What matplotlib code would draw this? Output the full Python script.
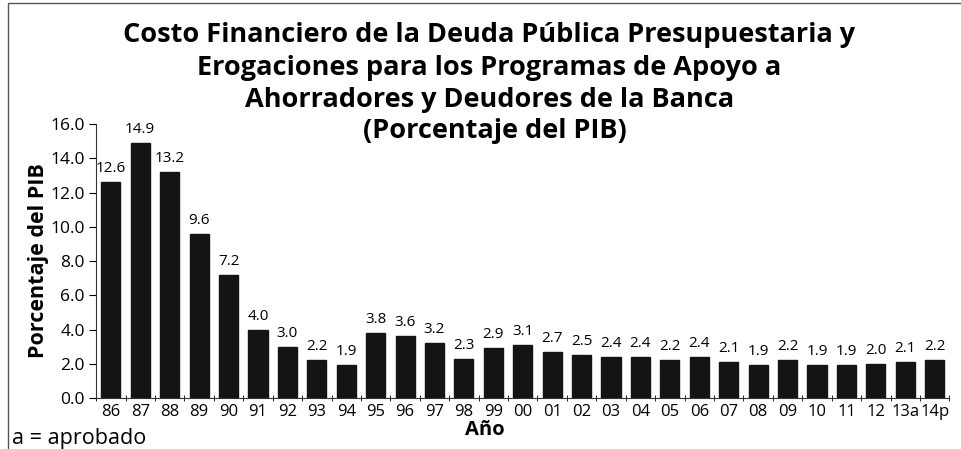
import numpy as np
import matplotlib.pyplot as plt
from matplotlib.patches import Rectangle

# data
years = ["86", "87", "88", "89", "90", "91", "92", "93", "94", "95", "96", "97", "98", "99",
         "00", "01", "02", "03", "04", "05", "06", "07", "08", "09", "10", "11", "12", "13a", "14p"]
values = [12.6, 14.9, 13.2, 9.6, 7.2, 4.0, 3.0, 2.2, 1.9, 3.8, 3.6, 3.2, 2.3, 2.9,
          3.1, 2.7, 2.5, 2.4, 2.4, 2.2, 2.4, 2.1, 1.9, 2.2, 1.9, 1.9, 2.0, 2.1, 2.2]

title_lines = ["Costo Financiero de la Deuda Pública Presupuestaria y",
               "Erogaciones para los Programas de Apoyo a",
               "Ahorradores y Deudores de la Banca"]
subtitle = "(Porcentaje del PIB)"

plt.rcParams['font.family'] = ['Open Sans', 'DejaVu Sans']

fig = plt.figure(figsize=(9.61, 4.49), dpi=100)
ax = fig.add_axes([0.1, 0.1136, 0.888, 0.61])

x = np.arange(len(years))
ax.bar(x, values, width=0.65, color='#141414', edgecolor='#141414')

# value labels above bars
for xi, v in zip(x, values):
    ax.text(xi, v + 0.35, f"{v:.1f}", ha='center', va='bottom', fontsize=11)

ax.set_xlim(-0.5, len(years) - 0.5)
ax.set_ylim(0, 16)
yt = np.arange(0, 16.1, 2)
ax.set_yticks(yt)
ax.set_yticklabels([f"{t:.1f}" for t in yt], fontsize=12.5)
ax.set_xticks(x)
ax.set_xticklabels(years, fontsize=12)
ax.set_xticks(np.arange(-0.5, len(years)), minor=True)
ax.tick_params(axis='x', which='major', length=0, pad=4)
ax.tick_params(axis='x', which='minor', length=5, direction='inout')
ax.tick_params(axis='y', length=5, direction='out', pad=3)

ax.spines['top'].set_visible(False)
ax.spines['right'].set_visible(False)
ax.spines['left'].set_color('#333333')
ax.spines['bottom'].set_color('#333333')

ax.set_ylabel("Porcentaje del PIB", fontsize=15.5, fontweight='bold', labelpad=1)

# title block
ys = [0.922, 0.849, 0.777]
for line, yy in zip(title_lines, ys):
    fig.text(0.509, yy, line, ha='center', va='center', fontsize=19.5, fontweight='bold')
fig.text(0.515, 0.708, subtitle, ha='center', va='center', fontsize=19.5, fontweight='bold')

fig.text(0.505, 0.042, "Año", ha='center', va='center', fontsize=14.5, fontweight='bold')
fig.text(0.012, 0.024, "a = aprobado", ha='left', va='center', fontsize=15.5)

# thin frame around the chart area
fig.patches.append(Rectangle((0.008, -0.01), 1.1, 1.0035, transform=fig.transFigure,
                             fill=False, edgecolor='#555555', linewidth=1))

fig.savefig("out.png", dpi=100)
